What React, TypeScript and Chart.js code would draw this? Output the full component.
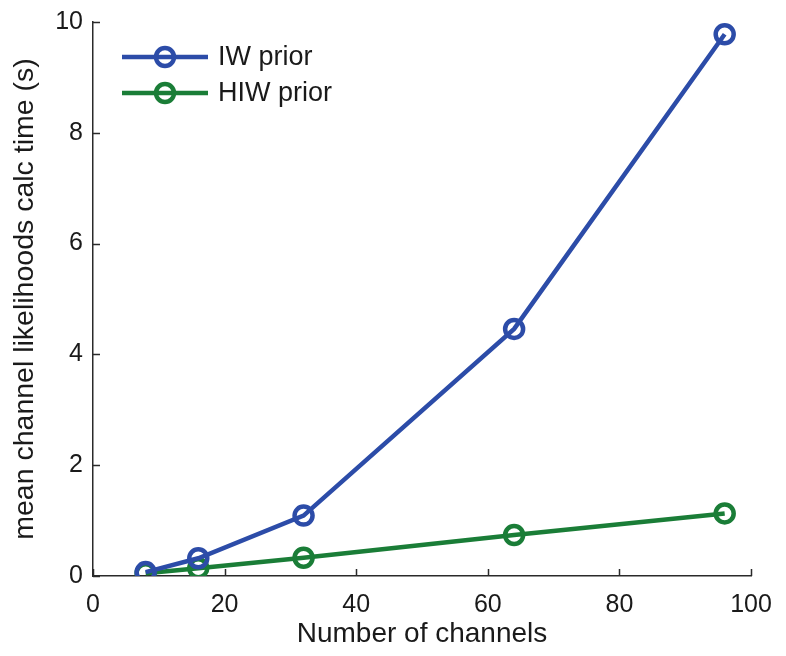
import React, { useEffect, useRef } from "react";
import { Chart, registerables } from "chart.js";

Chart.register(...registerables);

const channels = [8, 16, 32, 64, 96];
const iwPrior = [0.07, 0.32, 1.09, 4.46, 9.78];
const hiwPrior = [0.05, 0.14, 0.33, 0.74, 1.13];
const seriesLabels = ["IW prior", "HIW prior"];
const xTitle = "Number of channels";
const yTitle = "mean channel likelihoods calc time (s)";

const BLUE = "#2c4ca8";
const GREEN = "#1a7d37";
const AXIS = "#2a2a2a";
const FONT = "'Liberation Sans', Arial, Helvetica, sans-serif";

const inwardTicks = {
  id: "inwardTicks",
  afterDraw(chart: any) {
    const { ctx, scales, chartArea } = chart;
    const xs = scales.x;
    const ys = scales.y;
    ctx.save();
    ctx.strokeStyle = AXIS;
    ctx.lineWidth = 1.5;
    ctx.beginPath();
    xs.ticks.forEach((t: any) => {
      const px = Math.round(xs.getPixelForValue(t.value)) + 0.5;
      ctx.moveTo(px, chartArea.bottom);
      ctx.lineTo(px, chartArea.bottom - 7);
    });
    ys.ticks.forEach((t: any) => {
      const py = Math.round(ys.getPixelForValue(t.value)) + 0.5;
      ctx.moveTo(chartArea.left, py);
      ctx.lineTo(chartArea.left + 7, py);
    });
    ctx.stroke();
    ctx.restore();
  },
};

const customLegend = {
  id: "customLegend",
  afterDraw(chart: any) {
    const { ctx } = chart;
    const x0 = 122;
    const x1 = 208;
    const cx = 165;
    const rows = [57, 93];
    ctx.save();
    chart.data.datasets.forEach((ds: any, i: number) => {
      const y = rows[i];
      ctx.strokeStyle = ds.borderColor;
      ctx.lineWidth = ds.borderWidth;
      ctx.beginPath();
      ctx.moveTo(x0, y);
      ctx.lineTo(x1, y);
      ctx.stroke();
      ctx.lineWidth = ds.pointBorderWidth;
      ctx.beginPath();
      ctx.arc(cx, y, ds.pointRadius, 0, Math.PI * 2);
      ctx.stroke();
      ctx.fillStyle = "#1a1a1a";
      ctx.font = `27px ${FONT}`;
      ctx.textBaseline = "middle";
      ctx.textAlign = "left";
      ctx.fillText(ds.label, 218, y + 1);
    });
    ctx.restore();
  },
};

export default function App() {
  const ref = useRef<HTMLCanvasElement | null>(null);

  useEffect(() => {
    if (!ref.current) return;
    const mk = (vals: number[]) => channels.map((c, i) => ({ x: c, y: vals[i] }));
    const chart = new Chart(ref.current, {
      type: "line",
      data: {
        datasets: [
          {
            label: seriesLabels[0],
            data: mk(iwPrior),
            borderColor: BLUE,
            backgroundColor: "rgba(0,0,0,0)",
            borderWidth: 4.5,
            pointRadius: 9,
            pointBorderWidth: 4.5,
            pointBorderColor: BLUE,
            pointBackgroundColor: "rgba(0,0,0,0)",
            tension: 0,
          },
          {
            label: seriesLabels[1],
            data: mk(hiwPrior),
            borderColor: GREEN,
            backgroundColor: "rgba(0,0,0,0)",
            borderWidth: 4.5,
            pointRadius: 9,
            pointBorderWidth: 4.5,
            pointBorderColor: GREEN,
            pointBackgroundColor: "rgba(0,0,0,0)",
            tension: 0,
          },
        ],
      },
      options: {
        animation: false,
        responsive: false,
        maintainAspectRatio: false,
        layout: { padding: { top: 22, right: 35, bottom: 0, left: 0 } },
        plugins: {
          legend: { display: false },
          tooltip: { enabled: false },
        },
        scales: {
          x: {
            type: "linear",
            min: 0,
            max: 100,
            ticks: {
              stepSize: 20,
              padding: 14,
              color: "#1a1a1a",
              font: { family: FONT, size: 25 },
              maxRotation: 0,
            },
            grid: { display: false, drawTicks: false },
            border: { display: true, color: AXIS, width: 1.5 },
            title: {
              display: true,
              text: xTitle,
              color: "#1a1a1a",
              font: { family: FONT, size: 28 },
              padding: { top: 0, bottom: 5 },
            },
            afterFit: (s: any) => {
              s.height = 80;
              s.paddingLeft = 0;
              s.paddingRight = 0;
            },
          },
          y: {
            type: "linear",
            min: 0,
            max: 10,
            ticks: {
              stepSize: 2,
              padding: 10,
              color: "#1a1a1a",
              font: { family: FONT, size: 25 },
            },
            grid: { display: false, drawTicks: false },
            border: { display: true, color: AXIS, width: 1.5 },
            title: {
              display: true,
              text: yTitle,
              color: "#1a1a1a",
              font: { family: FONT, size: 28.5 },
              padding: { top: 8, bottom: 0 },
            },
            afterFit: (s: any) => {
              s.width = 93;
              s.paddingTop = 0;
              s.paddingBottom = 0;
            },
          },
        },
      },
      plugins: [inwardTicks, customLegend],
    });
    return () => chart.destroy();
  }, []);

  return (
    <div style={{ position: "fixed", left: 0, top: 0, width: 786, height: 656, background: "#fff" }}>
      <canvas ref={ref} width={786} height={656} style={{ display: "block" }} />
    </div>
  );
}
